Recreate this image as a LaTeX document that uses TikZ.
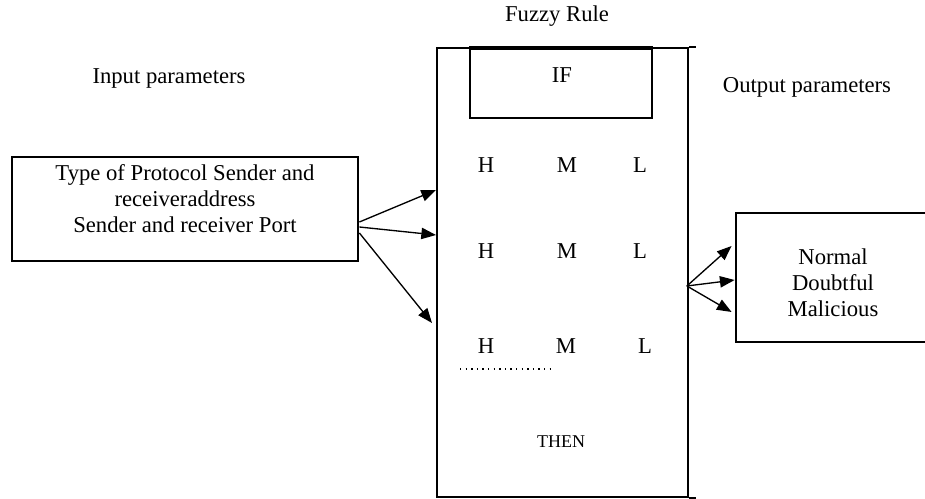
\documentclass[tikz,border=0pt]{standalone}
\usepackage{fontspec}
\setmainfont{Liberation Serif}
\usetikzlibrary{arrows.meta,calc}
\tikzstyle{block} = [rectangle, draw, line width=2.1pt, inner sep=0pt]
\tikzstyle{rulebox} = [rectangle, draw, line width=1.3pt, inner sep=0pt]
\tikzstyle{txt} = [font=\fontsize{17}{19.5}\selectfont, inner sep=0pt, align=center]
\tikzstyle{level} = [txt, anchor=base]
\tikzstyle{line} = [draw, line width=1pt, -{Triangle[length=11pt,width=8.5pt]}]

\begin{document}
\begin{tikzpicture}[x=0.75pt, y=-0.75pt]
			\useasboundingbox (0,0) rectangle (925,499);
			% boxes
			\node [block, minimum width=259.5pt, minimum height=78pt] (input) at (185,209) {};
			\node [rulebox, minimum width=188.25pt, minimum height=336.75pt] (rule) at (562.5,272.5) {};
			\node [rulebox, minimum width=136.5pt, minimum height=52pt] (if) at (561,83.5) {};
			\node [block, minimum width=153pt, minimum height=96.75pt] (output) at (838,277.5) {};
			\draw [line width=2.8pt] (if.north west) -- (if.north east);
			\draw [line width=1.3pt] (rule.north east) -- ++(7,0);
			\draw [line width=1.3pt] (rule.south east) -- ++(7,0);
			% texts
			\node [level] (title) at (557,22) {Fuzzy Rule};
			\node [level] (inlabel) at (169,84) {Input parameters};
			\node [level] (outlabel) at (807,93) {Output parameters};
			\node [txt] (intext) at (185,199) {Type of Protocol Sender and\\receiveraddress\\Sender and receiver Port};
			\node [txt] (outtext) at (833,283) {Normal\\Doubtful\\Malicious};
			\node [level] (iftext) at (562,83) {IF};
			\node [level] (h1) at (486,173) {H};
			\node [level] (m1) at (567,173) {M};
			\node [level] (l1) at (640,173) {L};
			\node [level] (h2) at (486,258) {H};
			\node [level] (m2) at (567,258) {M};
			\node [level] (l2) at (640,258) {L};
			\node [level] (h3) at (486,353) {H};
			\node [level] (m3) at (566,353) {M};
			\node [level] (l3) at (645,353) {L};
			\draw [line width=1pt, dash pattern=on 1pt off 3.2pt] (460,369) -- (554,369);
			\node [level, font=\fontsize{13.5}{16}\selectfont] (then) at (561,447) {THEN};
			% arrow ends
			\coordinate (in1) at (436,190);
			\coordinate (in2) at (436,235);
			\coordinate (in3) at (432,323);
			\coordinate (fork) at ($(rule.east)+(-2,13.5)$);
			\path [line] ($(input.east)+(0,13)$) -- (in1);
			\path [line] ($(input.east)+(0,18)$) -- (in2);
			\path [line] ($(input.east)+(0,24)$) -- (in3);
			\path [line] (fork) -- ($(output.west)+(-3,-31.5)$);
			\path [line] (fork) -- ($(output.west)+(0,2.5)$);
			\path [line] (fork) -- ($(output.west)+(-3,34.5)$);
		\end{tikzpicture}
\end{document}
